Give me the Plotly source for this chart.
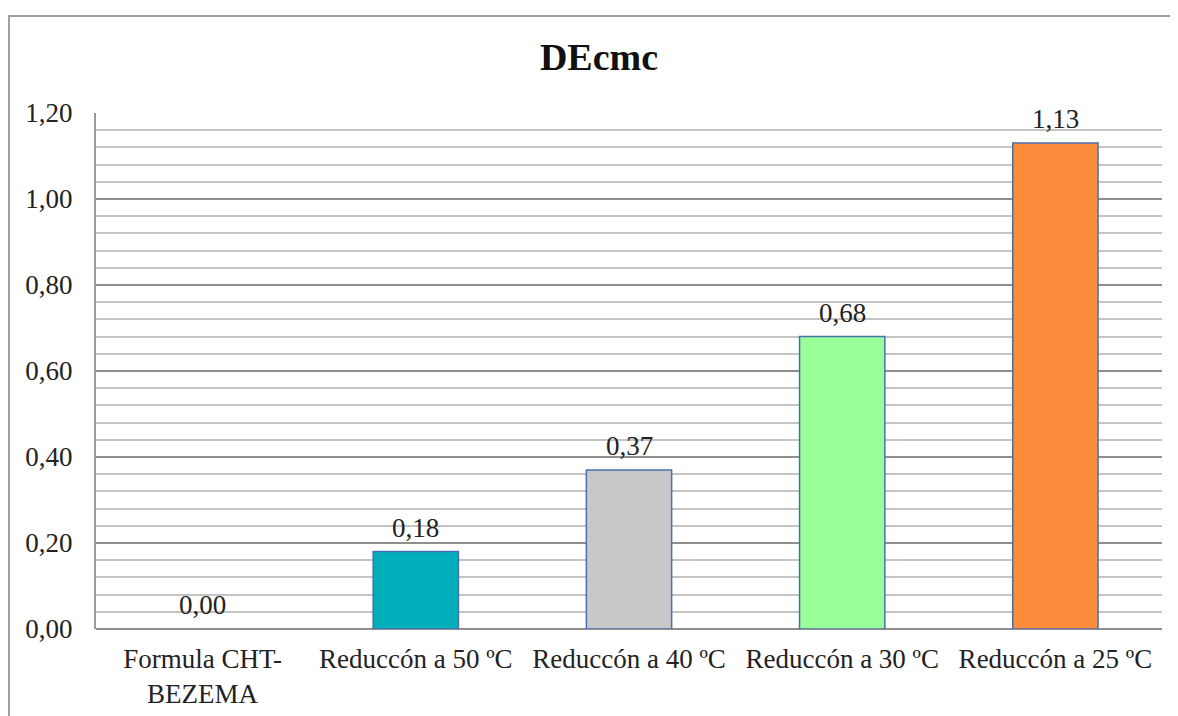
import plotly.graph_objects as go

categories = ["Formula CHT-<br>BEZEMA", "Reduccón a 50 ºC", "Reduccón a 40 ºC",
              "Reduccón a 30 ºC", "Reduccón a 25 ºC"]
values = [0.00, 0.18, 0.37, 0.68, 1.13]
bar_colors = ["#FFFFFF", "#00AFBA", "#C8C8C8", "#99FF99", "#FB8C3C"]
y_ticks = [0.0, 0.2, 0.4, 0.6, 0.8, 1.0, 1.2]

FONT = "Times New Roman, Liberation Serif, serif"
FS = 27

outline = ["rgba(0,0,0,0)" if v == 0 else "#4A6FB0" for v in values]

fig = go.Figure()
fig.add_trace(go.Bar(
    x=categories, y=values,
    marker=dict(color=bar_colors, line=dict(color=outline, width=1.5)),
    showlegend=False,
))

for c, v in zip(categories, values):
    fig.add_annotation(x=c, y=v, xref="x", yref="y", text=f"{v:.2f}".replace(".", ","),
                       showarrow=False, yanchor="bottom", yshift=7,
                       font=dict(family=FONT, size=FS, color="#222222"))

# page body has an 8px margin, so figure coords = page coords - 8
OFF = 8
L, R, T, B = 96 - OFF, 1162 - OFF, 113 - OFF, 629 - OFF
W, H = R - L, B - T
fig.add_shape(type="rect", xref="paper", yref="paper",
              x0=(9 - OFF - L) / W, x1=(1200 - L) / W,
              y0=(B - (16 - OFF)) / H, y1=(B - 760) / H,
              line=dict(color="#A0A0A0", width=2), fillcolor="rgba(0,0,0,0)", layer="below")

fig.update_layout(
    width=1178, height=716,
    margin=dict(l=L, r=1178 - R, t=T, b=716 - B),
    paper_bgcolor="white", plot_bgcolor="white",
    separators=",.",
    bargap=0.6,
    title=dict(text="<b>DEcmc</b>", x=(599 - OFF) / 1178, xanchor="center", xref="container",
               y=1 - (57 - OFF) / 716, yanchor="middle", yref="container",
               font=dict(family=FONT, size=38, color="#111111")),
    font=dict(family=FONT, size=FS, color="#222222"),
    xaxis=dict(showgrid=False, showline=False, ticks="", tickfont=dict(family=FONT, size=FS, color="#222222"),
               ticklabelstandoff=11),
    yaxis=dict(range=[0, 1.2], tickvals=y_ticks, tickformat=".2f",
               showgrid=True, gridcolor="#8F8F8F", gridwidth=1.5,
               minor=dict(dtick=0.04, showgrid=True, gridcolor="#C4C4C4", gridwidth=1.5),
               showline=True, linecolor="#999999", linewidth=2,
               zeroline=True, zerolinecolor="#8F8F8F", zerolinewidth=2,
               ticks="", ticklabelstandoff=16,
               tickfont=dict(family=FONT, size=FS, color="#222222")),
)

fig.write_html("out.html")
